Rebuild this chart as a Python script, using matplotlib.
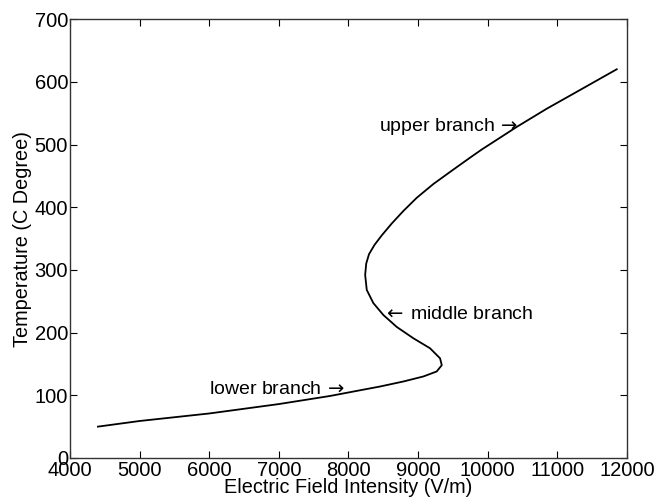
import matplotlib
matplotlib.use('Agg')
import matplotlib.pyplot as plt

# S-shaped steady-state curve: field intensity vs temperature
field = [4400, 5000, 6000, 7000, 7740, 8167, 8454, 8789, 9076, 9268,
         9341, 9316, 9172, 8932, 8694, 8502, 8358, 8263, 8240, 8255,
         8295, 8375, 8478, 8622, 8789, 8981, 9220, 9507, 9747, 9915,
         10417, 10848, 11328, 11855]
temp = [50, 59, 71, 86, 99, 108, 114, 122, 130, 138,
        148, 159, 175, 191, 209, 228, 247, 268, 292, 310,
        325, 340, 355, 374, 394, 415, 437, 460, 479, 492,
        528, 557, 587, 620]

labels = ['upper branch', 'middle branch', 'lower branch']
label_pts = [(10440, 528), (8490, 229), (7955, 110)]

plt.rcParams['font.family'] = ['Liberation Sans', 'DejaVu Sans']
plt.rcParams['mathtext.fontset'] = 'dejavusans'

fig = plt.figure(figsize=(6.55, 5.03), dpi=100)
ax = fig.add_axes([0.107, 0.0895, 0.85, 0.8725])

ax.plot(field, temp, color='black', lw=1.3)

ax.set_xlim(4000, 12000)
ax.set_ylim(0, 700)
ax.set_xticks(range(4000, 12001, 1000))
ax.set_yticks(range(0, 701, 100))
ax.tick_params(direction='in', top=True, right=True, length=5,
               labelsize=14.5, width=0.8)
ax.tick_params(axis='y', pad=1.5)
ax.tick_params(axis='x', pad=2)
for s in ax.spines.values():
    s.set_linewidth(1.0)
    s.set_color('#333333')

ax.set_xlabel('Electric Field Intensity (V/m)', fontsize=14.3, labelpad=-1)
ax.set_ylabel('Temperature (C Degree)', fontsize=14.3, labelpad=2)

# branch labels with arrows pointing at the curve
ax.text(label_pts[0][0], label_pts[0][1], labels[0] + r'$\,\rightarrow$',
        ha='right', va='center', fontsize=14)
ax.text(label_pts[1][0], label_pts[1][1], r'$\leftarrow\,$' + labels[1],
        ha='left', va='center', fontsize=14)
ax.text(label_pts[2][0], label_pts[2][1], labels[2] + r'$\,\rightarrow$',
        ha='right', va='center', fontsize=14)

fig.savefig('out.png', dpi=100)
